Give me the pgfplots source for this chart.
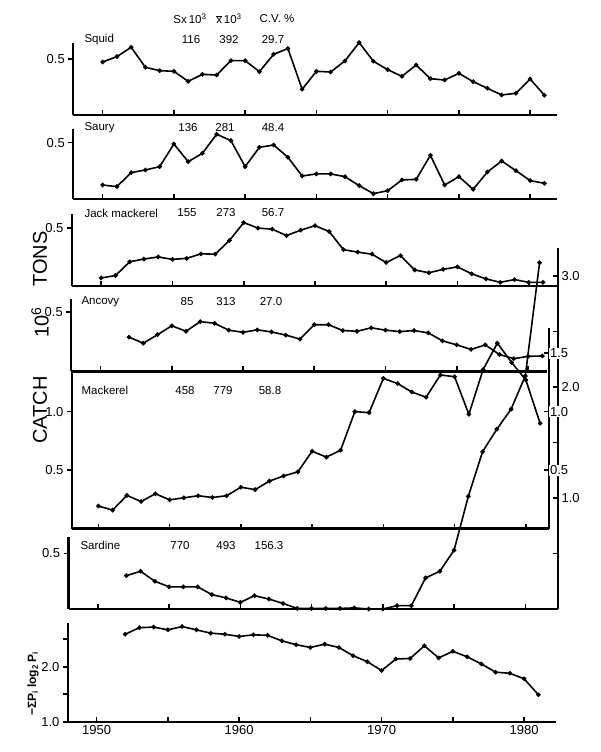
\documentclass[border=0pt]{standalone}
\usepackage{pgfplots}
\pgfplotsset{compat=1.18}
\usepackage{fontspec}
\setmainfont{Liberation Sans}

\newcommand\lab{\fontsize{11.5}{13}\selectfont}

\pgfplotsset{
  panel/.style={
    anchor=south west, x=14.25pt, clip=false,
    axis x line=bottom, axis y line=left,
    axis line style={-, line width=2.3pt},
    every tick/.style={black, line width=1.6pt},
    major tick length=5pt,
    xtick={1950,1955,...,1980}, xticklabels={},
    xtick align=inside, ytick align=outside,
    ymin=0, ytick={0.5}, yticklabels={0.5},
    tick label style={font=\fontsize{13}{14}\selectfont},
  },
  rax/.style={
    anchor=south west, x=14.25pt, ymin=0,
    axis x line=none, axis y line=right,
    axis line style={-, line width=2.3pt},
    every tick/.style={black, line width=1.6pt},
    major tick length=5pt, ytick align=inside,
    tick label style={font=\fontsize{13}{14}\selectfont},
  },
  ser/.style={black, line width=1.6pt, mark=*, mark size=1.4pt},
}

\begin{document}
\begin{tikzpicture}
\useasboundingbox (0,0) rectangle (600pt,-752pt);

% Squid
\begin{axis}[panel, at={(73.3pt,-115pt)}, y=111.4pt,
  xmin=1947.94, xmax=1981.88, ymax=0.646]
\addplot[ser] coordinates {
(1950,0.476) (1951,0.524) (1952,0.608) (1953,0.428) (1954,0.398) (1955,0.392)
(1956,0.302) (1957,0.365) (1958,0.359) (1959,0.488) (1960,0.488) (1961,0.389)
(1962,0.545) (1963,0.596) (1964,0.231) (1965,0.392) (1966,0.386) (1967,0.485)
(1968,0.650) (1969,0.482) (1970,0.407) (1971,0.347) (1972,0.449) (1973,0.326)
(1974,0.314) (1975,0.374) (1976,0.299) (1977,0.240) (1978,0.180) (1979,0.195)
(1980,0.323) (1981,0.177)};
\end{axis}

% Saury
\begin{axis}[panel, at={(73.3pt,-199.3pt)}, y=113.3pt,
  xmin=1947.94, xmax=1981.88, ymax=0.618]
\addplot[ser] coordinates {
(1950,0.126) (1951,0.112) (1952,0.235) (1953,0.259) (1954,0.288) (1955,0.488)
(1956,0.332) (1957,0.406) (1958,0.574) (1959,0.518) (1960,0.288) (1961,0.459)
(1962,0.479) (1963,0.371) (1964,0.206) (1965,0.224) (1966,0.224) (1967,0.200)
(1968,0.121) (1969,0.050) (1970,0.076) (1971,0.171) (1972,0.176) (1973,0.388)
(1974,0.126) (1975,0.200) (1976,0.088) (1977,0.241) (1978,0.338) (1979,0.253)
(1980,0.165) (1981,0.141)};
\end{axis}

% Jack mackerel
\begin{axis}[panel, at={(72pt,-285.8pt)}, y=115.4pt,
  xmin=1947.95, xmax=1982.02, ymax=0.625]
\addplot[ser] coordinates {
(1950,0.068) (1951,0.089) (1952,0.208) (1953,0.232) (1954,0.250) (1955,0.229)
(1956,0.238) (1957,0.277) (1958,0.274) (1959,0.393) (1960,0.548) (1961,0.500)
(1962,0.491) (1963,0.435) (1964,0.482) (1965,0.521) (1966,0.470) (1967,0.313)
(1968,0.292) (1969,0.274) (1970,0.202) (1971,0.262) (1972,0.137) (1973,0.113)
(1974,0.143) (1975,0.164) (1976,0.104) (1977,0.060) (1978,0.030) (1979,0.054)
(1980,0.030) (1981,0.030)};
\end{axis}

% Ancovy
\begin{axis}[panel, at={(71.3pt,-371.4pt)}, y=118.8pt,
  xmin=1947.95, xmax=1981.3, ymax=0.613]
\addplot[ser] coordinates {
(1952,0.289) (1953,0.237) (1954,0.309) (1955,0.384) (1956,0.338) (1957,0.419)
(1958,0.405) (1959,0.347) (1960,0.329) (1961,0.350) (1962,0.332) (1963,0.306)
(1964,0.272) (1965,0.393) (1966,0.393) (1967,0.344) (1968,0.338) (1969,0.367)
(1970,0.347) (1971,0.335) (1972,0.344) (1973,0.324) (1974,0.257) (1975,0.223)
(1976,0.185) (1977,0.223) (1978,0.142) (1979,0.107) (1980,0.127) (1981,0.130)};
\end{axis}

% Mackerel
\begin{axis}[panel, at={(72pt,-528.6pt)}, y=117pt,
  xmin=1948.15, xmax=1981.62, ymax=1.341,
  ytick={0.5,1}, yticklabels={0.5,1.0}]
\addplot[ser] coordinates {
(1950,0.193) (1951,0.158) (1952,0.284) (1953,0.231) (1954,0.298) (1955,0.246)
(1956,0.263) (1957,0.281) (1958,0.266) (1959,0.281) (1960,0.354) (1961,0.333)
(1962,0.406) (1963,0.450) (1964,0.485) (1965,0.661) (1966,0.611) (1967,0.670)
(1968,1.000) (1969,0.991) (1970,1.284) (1971,1.240) (1972,1.167) (1973,1.123)
(1974,1.313) (1975,1.298) (1976,0.977) (1977,1.36) (1978,1.585) (1979,1.42)
(1980,1.27) (1981,0.90)};
\end{axis}

% Sardine
\begin{axis}[panel, at={(68.6pt,-609pt)}, y=111pt,
  xmin=1947.95, xmax=1982.3, ymax=0.649]
\addplot[ser] coordinates {
(1952,0.30) (1953,0.34) (1954,0.25) (1955,0.20) (1956,0.20) (1957,0.20)
(1958,0.13) (1959,0.10) (1960,0.06) (1961,0.12) (1962,0.09) (1963,0.05)
(1964,0.005) (1965,0.005) (1966,0.005) (1967,0.005) (1968,0.01) (1969,0.0)
(1970,0.0) (1971,0.03) (1972,0.03) (1973,0.28) (1974,0.34) (1975,0.53)
(1976,1.015) (1977,1.417) (1978,1.62) (1979,1.80) (1980,2.10) (1981,3.12)};
\end{axis}

% Diversity index
\begin{axis}[panel, at={(68pt,-721.7pt)}, y=55pt,
  xmin=1947.99, xmax=1982.2, ymin=1, ymax=2.795,
  ytick={1,1.5,2,2.5}, yticklabels={1.0,,2.0,},
  xticklabels={1950,,1960,,1970,,1980}]
\addplot[ser] coordinates {
(1952,2.59) (1953,2.71) (1954,2.72) (1955,2.67) (1956,2.73) (1957,2.67)
(1958,2.61) (1959,2.59) (1960,2.55) (1961,2.58) (1962,2.57) (1963,2.47)
(1964,2.40) (1965,2.35) (1966,2.41) (1967,2.35) (1968,2.20) (1969,2.09)
(1970,1.93) (1971,2.14) (1972,2.15) (1973,2.38) (1974,2.16) (1975,2.28)
(1976,2.18) (1977,2.05) (1978,1.90) (1979,1.88) (1980,1.78) (1981,1.49)};
\end{axis}

% extended right scale, sardine
\begin{axis}[rax, at={(68.6pt,-609pt)}, y=111pt,
  xmin=1947.95, xmax=1982.3, ymax=3.25,
  ytick={0.5,1,...,3}, yticklabels={,1.0,,2.0,,3.0}]
\addplot[draw=none] coordinates {(1960,1)};
\end{axis}

% extended right scale, mackerel
\begin{axis}[rax, at={(72pt,-528.6pt)}, y=117pt,
  xmin=1948.15, xmax=1981.62, ymax=1.714,
  ytick={0.5,1,1.5}, yticklabels={0.5,1.0,1.5},
  yticklabel style={fill=white, inner sep=1pt}]
\addplot[draw=none] coordinates {(1960,1)};
\end{axis}

% panel names and statistics
\begin{scope}[every node/.style={font=\lab}]
\node at (190pt,-19pt) {Sx\,10\textsuperscript{3}};
\node at (229pt,-19pt) {$\overline{\mbox{x}}$\,10\textsuperscript{3}};
\node at (277pt,-19pt) {C.V. \%};

\node[anchor=west] at (81pt,-40pt) {Squid};
\node at (191pt,-40pt) {116}; \node at (229pt,-40pt) {392}; \node at (273pt,-40pt) {29.7};

\node[anchor=west] at (81pt,-127.3pt) {Saury};
\node at (188pt,-127.3pt) {136}; \node at (225pt,-127.3pt) {281}; \node at (273pt,-127.3pt) {48.4};

\node[anchor=west] at (81pt,-213pt) {Jack mackerel};
\node at (187pt,-213pt) {155}; \node at (226pt,-213pt) {273}; \node at (273pt,-213pt) {56.7};

\node[anchor=west] at (78pt,-302pt) {Ancovy};
\node at (187pt,-302pt) {85}; \node at (226pt,-302pt) {313}; \node at (271pt,-302pt) {27.0};

\node[anchor=west] at (78pt,-390.6pt) {Mackerel};
\node at (185pt,-390.6pt) {458}; \node at (223pt,-390.6pt) {779}; \node at (270pt,-390.6pt) {58.8};

\node[anchor=west] at (77pt,-545.7pt) {Sardine};
\node at (180pt,-545.7pt) {770}; \node at (226pt,-545.7pt) {493}; \node at (269pt,-545.7pt) {156.3};
\end{scope}

% vertical axis titles
\node[rotate=90, font=\fontsize{20}{20}\selectfont] at (40pt,-410pt) {CATCH};
\node[rotate=90, font=\fontsize{20}{20}\selectfont] at (40pt,-322pt) {10\textsuperscript{6}};
\node[rotate=90, font=\fontsize{20}{20}\selectfont] at (40pt,-259pt) {TONS};
\node[rotate=90, font=\bfseries\fontsize{12}{13}\selectfont] at (33pt,-684pt)
  {−ΣP\textsubscript{i} log\textsubscript{2}\,P\textsubscript{i}};
\end{tikzpicture}
\end{document}
